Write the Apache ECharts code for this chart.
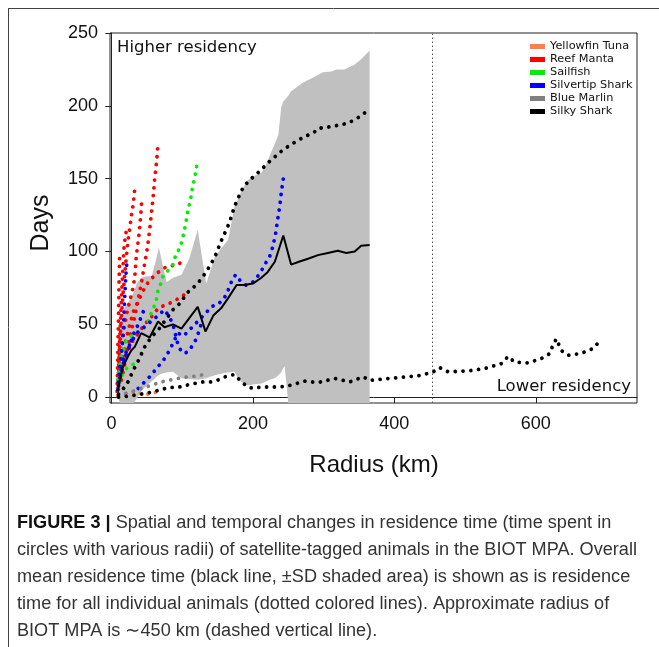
<!DOCTYPE html>
<html>
<head>
<meta charset="utf-8">
<script src="https://cdn.jsdelivr.net/npm/echarts@6.0.0/dist/echarts.min.js"></script>
<style>
html, body { margin: 0; padding: 0; background: #fff; }
#chart { width: 659px; height: 647px; }
</style>
</head>
<body>
<div id="chart"></div>
<script>
// axis ticks
var xTicks = [0, 200, 400, 600];
var yTicks = [0, 50, 100, 150, 200, 250];
var yMin = -4;
var mpaRadius = 454;

// overall mean +- SD (shaded)
var bandX    = [9, 12, 16, 19, 25, 31, 36, 42, 50, 57, 64, 67, 71, 78, 87, 99, 110, 122, 134, 146, 155, 165, 174, 179, 184, 193, 198, 212, 217, 224, 231, 236, 240, 243, 245, 250, 254, 271, 283, 299, 311, 318, 329, 343, 353, 365];
var bandLow  = [0, -5, -8, -8, -6, -4, -1, 4, 8, 11, 14, 15, 16, 17, 17.5, 13, 12.5, 12, 13, 15, 16, 17, 17.4, 13, 10.5, 8, 8.5, 9.4, 10.5, 12, 13, 15, 17, 20, 21, -20, -20, -20, -20, -20, -20, -20, -20, -20, -20, -20];
var bandHigh = [25, 40, 58, 62, 66, 71.5, 78, 82, 83, 83, 96, 103, 94, 79, 82, 84, 95, 115, 78, 96, 102, 108, 131, 136, 142, 149, 151, 154, 158, 166, 174, 180, 199, 203, 204, 207, 210, 216, 219, 223, 223.5, 225, 225, 228, 232, 238];

// overall mean residence (solid black)
var meanLine = [[9, 4], [12, 12], [16.5, 21], [23.5, 28], [28, 32], [33, 34.5], [42, 44], [54, 41], [66, 52], [75, 48], [87, 50], [99, 47], [122, 62], [133, 45], [144, 56], [155, 61], [165, 68], [177, 77], [188, 77], [200, 78], [212, 82], [221, 86], [231, 93], [243, 111], [254, 91], [265, 93], [278, 95], [292, 97.5], [306, 99], [320, 100.5], [332, 99], [344, 100], [353, 104], [365, 104.5]];

// individual animals [radius km, days]
var tuna1 = [[9, 1], [15, 1.5], [21, 2.5], [28, 3], [35, 3.7], [41, 2.5], [47, 1.4], [56, 2.8], [66, 3.7]];

var manta1 = [[14, 11.7], [21, 27.7], [26, 41.4], [33, 55], [38.6, 69], [43, 80], [47, 91.8], [51, 103], [54, 114.7], [56.5, 126], [59, 137.6], [61, 149], [63.6, 160.5], [66, 174]];
var manta2 = [[10.4, 18.5], [12, 37], [14, 55], [16.5, 71], [19, 85], [21, 96], [23.6, 108], [26, 116], [28, 124], [31, 133], [33, 143]];
var manta3 = [[9, 5], [12, 20], [15, 35], [18, 48], [22, 58], [26, 66], [30, 74], [33, 82], [35, 96], [38.6, 110], [41.4, 124], [43, 136]];
var manta4 = [[8, 4], [8.5, 15], [9, 28], [9.5, 42], [10, 56], [10.5, 70], [11, 84], [11.5, 96]];
var manta5 = [[9, 6], [10, 18], [11, 30], [12, 42], [13, 54], [14, 66], [15, 76], [16, 86], [17, 95], [18, 104], [20, 111], [22, 117]];
var manta6 = [[10, 12], [15, 25], [20, 38], [26, 50], [32, 60], [40, 68], [46, 74], [52, 79], [58, 82], [64, 85], [70, 87], [76, 89], [84, 90], [92, 91], [97, 92]];
var manta7 = [[10, 8], [16, 20], [22, 30], [28, 37], [38, 44], [47, 50], [56.5, 55], [66, 61], [75, 63], [87, 65.5], [99, 69], [108, 72]];

var sail1 = [[9, 12], [12, 22], [14, 29], [17, 33], [21, 39], [28, 42], [35, 44], [45, 47], [52, 52], [56.5, 58], [61, 63], [64.7, 69], [66, 74], [70, 78], [73, 83], [80, 87], [87, 91], [89, 95], [94, 100], [98, 104], [101, 110], [104.6, 118], [108, 128], [112, 136], [115, 145], [119, 154], [122, 163]];
var sail2 = [[9, 5], [12, 11], [17, 17], [24, 21], [33, 23]];

var silvertip1 = [[38, 6], [46, 10], [56, 15], [64, 20], [73, 25], [82, 32], [88, 38], [94, 44], [102, 42], [110, 46], [118, 50], [126, 54], [134, 58], [141, 62], [151, 64], [158, 67], [163, 71], [167, 76], [172, 82], [176, 84], [182, 80], [190, 77], [200, 79], [210, 85], [218, 92], [224, 97], [228, 103], [232, 112], [235, 122], [238, 131], [240, 140], [243, 150]];
var silvertip2 = [[10, 10], [14, 20], [20, 30], [28, 38], [36, 44], [46, 48], [56, 52], [66, 56], [75, 60], [82, 55], [87, 50], [90, 44], [93, 38], [97, 33], [102, 30], [108, 31], [114, 35], [120, 40], [125, 47], [128, 52]];
var silvertip3 = [[9, 5], [11, 15], [13, 25], [15, 35], [17, 48], [18, 60], [19, 70], [20, 80], [21, 88], [22, 93]];
var silvertip4 = [[10, 8], [14, 18], [20, 28], [26, 36], [32, 44], [38, 50], [42, 55], [46, 60]];

var marlin1 = [[10, 1], [20, 2.5], [30, 4], [42, 6], [56.5, 8.2], [70.7, 10.5], [82, 11.7], [94, 12.8], [108, 14], [120, 14.4], [130, 15.5]];

var silky1 = [[10, 2], [15, 5], [21, 8], [31, 18.5], [38, 25], [47, 34.5], [56, 41], [66, 46], [78, 54], [87, 60], [96, 64], [108, 72], [122, 78], [134, 86], [146, 96], [155, 107], [167, 120], [174, 131], [184, 142], [193, 148], [207, 154], [224, 162], [243, 170], [264, 176.5], [287, 182], [292, 184.5], [309, 185.6], [334, 188], [346, 191], [355, 194], [365, 198]];
var silky2 = [[10, 0], [21, 0.5], [33, 1.4], [47, 2.5], [59, 3.7], [71, 5.3], [82, 6.7], [94, 6.7], [106, 8.2], [118, 9.4], [130, 10.5], [141, 10.5], [148, 11.2], [158, 13.5], [167, 15], [174, 15.5], [184, 10.5], [193, 7], [200, 6], [212, 7], [226, 7], [238, 7], [254, 8.2], [273, 11], [292, 10], [316, 12.8], [337, 10.5], [356, 14], [365, 11.5], [391, 12.8], [419, 14], [438, 15], [455, 17.4], [464, 20.3], [476, 17.4], [504, 18], [528, 19.7], [551, 23], [561, 28], [570, 24], [589, 23.5], [608, 26.6], [620, 30], [624, 35.7], [629, 40], [636, 32], [646, 28.8], [664, 30], [681, 33.4], [693, 40]];

var captionLines = [
	'Spatial and temporal changes in residence time (time spent in',
	'circles with various radii) of satellite-tagged animals in the BIOT MPA. Overall',
	'mean residence time (black line, \u00B1SD shaded area) is shown as is residence',
	'time for all individual animals (dotted colored lines). Approximate radius of',
	'BIOT MPA is \u223C450 km (dashed vertical line).'
];

var COLORS = {
	'Yellowfin Tuna': '#ff7f50',
	'Reef Manta': '#ff0000',
	'Sailfish': '#00ee00',
	'Silvertip Shark': '#0000ff',
	'Blue Marlin': '#808080',
	'Silky Shark': '#000000'
};

function dotted(name, data) {
	return {
		name: name,
		type: 'line',
		data: data,
		symbol: 'none',
		silent: true,
		itemStyle: { color: COLORS[name] },
		lineStyle: { color: COLORS[name], width: 3.8, type: [0.01, 7.8], cap: 'round' }
	};
}

// caption is a condensed face, squeeze regular sans to the right width
var ctx = document.createElement('canvas').getContext('2d');
ctx.font = '18px "Liberation Sans"';
var capScale = 620 / ctx.measureText(captionLines[1]).width;

var capChildren = captionLines.map(function (t, i) {
	return {
		type: 'text',
		style: {
			text: i === 0 ? '{b|FIGURE 3 |} ' + t : t,
			x: 0, y: i * 27,
			font: '18px "Liberation Sans"',
			fill: '#333',
			verticalAlign: 'middle',
			rich: { b: { fontWeight: 'bold', fontSize: 18, fontFamily: 'Liberation Sans', fill: '#111' } }
		}
	};
});

var chart = echarts.init(document.getElementById('chart'), null, { renderer: 'canvas' });

var option = {
	animation: false,
	backgroundColor: '#ffffff',
	textStyle: { fontFamily: 'Liberation Sans' },
	grid: {
		left: 110, top: 33, right: 22, bottom: 244,
		show: true, borderColor: '#222', borderWidth: 1
	},
	legend: {
		orient: 'vertical',
		left: 530, top: 41,
		padding: 0,
		itemGap: 2,
		itemWidth: 15, itemHeight: 5,
		icon: 'rect',
		selectedMode: false,
		textStyle: { fontFamily: 'DejaVu Sans', fontSize: 11.3, color: '#111', lineHeight: 11 },
		data: ['Yellowfin Tuna', 'Reef Manta', 'Sailfish', 'Silvertip Shark', 'Blue Marlin', 'Silky Shark']
	},
	xAxis: {
		type: 'value',
		min: -2, max: 743,
		splitLine: { show: false },
		axisLine: { lineStyle: { color: '#222' } },
		axisTick: { length: 6, lineStyle: { color: '#222' }, customValues: xTicks },
		axisLabel: { customValues: xTicks, margin: 12, fontSize: 18, color: '#111', fontFamily: 'Liberation Sans' }
	},
	yAxis: {
		type: 'value',
		min: yMin, max: 250,
		splitLine: { show: false },
		axisLine: { show: true, lineStyle: { color: '#222' } },
		axisTick: { show: true, length: 6, lineStyle: { color: '#222' }, customValues: yTicks },
		axisLabel: { customValues: yTicks, margin: 12, fontSize: 18, color: '#111', fontFamily: 'Liberation Sans' }
	},
	graphic: [
		// outer figure frame
		{ type: 'line', shape: { x1: 8, y1: 8.5, x2: 659, y2: 8.5 }, style: { stroke: '#444', lineWidth: 1 } },
		{ type: 'line', shape: { x1: 8.5, y1: 8, x2: 8.5, y2: 647 }, style: { stroke: '#444', lineWidth: 1 } },
		{ type: 'text', style: { text: 'Higher residency', x: 117, y: 48, font: '16.5px "DejaVu Sans"', fill: '#111', verticalAlign: 'middle' } },
		{ type: 'text', style: { text: 'Lower residency', x: 631, y: 387, font: '16.5px "DejaVu Sans"', fill: '#111', align: 'right', verticalAlign: 'middle' } },
		{ type: 'text', rotation: Math.PI / 2, x: 41, y: 223, style: { text: 'Days', font: '25px "Liberation Sans"', fill: '#111', align: 'center', verticalAlign: 'middle' } },
		{ type: 'text', style: { text: 'Radius (km)', x: 374, y: 465, font: '24px "Liberation Sans"', fill: '#111', align: 'center', verticalAlign: 'middle' } },
		{ type: 'group', x: 17, y: 523, scaleX: capScale, children: capChildren }
	],
	series: [
		{
			// +-SD polygon: upper edge out, lower edge back
			name: 'sd', type: 'custom', silent: true, clip: true,
			data: [[bandX[0], bandLow[0]]],
			renderItem: function (params, api) {
				var pts = [];
				for (var i = 0; i < bandX.length; i++) {
					pts.push(api.coord([bandX[i], bandHigh[i]]));
				}
				for (var j = bandX.length - 1; j >= 0; j--) {
					pts.push(api.coord([bandX[j], Math.max(bandLow[j], yMin)]));
				}
				return { type: 'polygon', shape: { points: pts }, style: { fill: '#c0c0c0' } };
			}
		},
		dotted('Yellowfin Tuna', tuna1),
		dotted('Reef Manta', manta1),
		dotted('Reef Manta', manta2),
		dotted('Reef Manta', manta3),
		dotted('Reef Manta', manta4),
		dotted('Reef Manta', manta5),
		dotted('Reef Manta', manta6),
		dotted('Reef Manta', manta7),
		dotted('Sailfish', sail1),
		dotted('Sailfish', sail2),
		dotted('Silvertip Shark', silvertip1),
		dotted('Silvertip Shark', silvertip2),
		dotted('Silvertip Shark', silvertip3),
		dotted('Silvertip Shark', silvertip4),
		dotted('Blue Marlin', marlin1),
		dotted('Silky Shark', silky1),
		dotted('Silky Shark', silky2),
		{
			name: 'mean', type: 'line', symbol: 'none', silent: true,
			data: meanLine,
			lineStyle: { color: '#000', width: 2 },
			markLine: {
				silent: true,
				symbol: ['none', 'none'],
				label: { show: false },
				lineStyle: { color: '#555', width: 1, type: [1.5, 2.5] },
				data: [{ xAxis: mpaRadius }]
			}
		}
	]
};

chart.setOption(option);
</script>
</body>
</html>
